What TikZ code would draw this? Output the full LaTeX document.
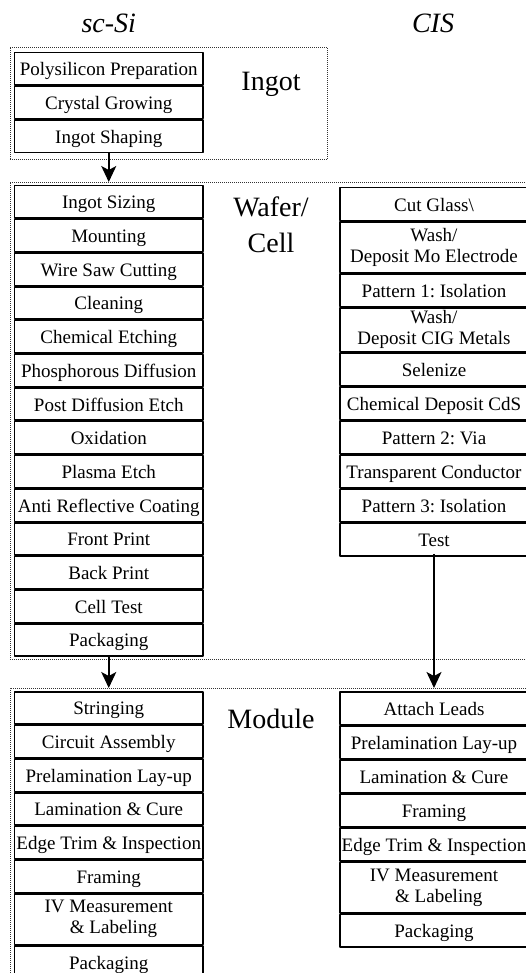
\documentclass[tikz,border=0pt]{standalone}
\usepackage{fontspec}
\setmainfont{Liberation Serif}
\frenchspacing
\usetikzlibrary{positioning,arrows.meta}
\tikzset{
  stepbox/.style={draw, line width=1.5pt, minimum width=188.5pt, minimum height=32.2pt, inner sep=1pt,
    align=center, text height=14pt, text depth=0pt, font=\fontsize{19}{21}\selectfont},
  cisbox/.style={stepbox, minimum height=32.6pt},
  twoline/.style={stepbox, minimum height=50.5pt, text height=, text depth=},
  stage/.style={draw=black!80, line width=.8pt, dash pattern=on .8pt off 1.2pt, inner sep=0pt, anchor=north west},
  biglabel/.style={font=\fontsize{28}{34}\selectfont, anchor=base},
  head/.style={font=\fontsize{28}{34}\selectfont\itshape, anchor=base},
  flow/.style={->, line width=1.5pt},
}
\begin{document}
\begin{tikzpicture}[x=1pt, y=-1pt, node distance=0pt, line join=round, >={Stealth[length=16pt,width=15pt,inset=4pt]}]
	\useasboundingbox (0,0) rectangle (526,973);
	% stage frames
	\node[stage, minimum width=317.5pt, minimum height=112pt] (ingotF) at (9.5,47) {};
	\node[stage, minimum width=540pt, minimum height=477pt] (waferF) at (9.5,182) {};
	\node[stage, minimum width=540pt, minimum height=320pt] (moduleF) at (9.5,688) {};
	\node[head] (siHead) at (108.75,33) {sc-Si};
	\node[head] (cisHead) at (433,33) {CIS};
	\node[biglabel] (ingotL) at (271,91) {Ingot};
	\node[biglabel] (waferL) at (271,217) {Wafer/};
	\node[biglabel] (cellL) at (271,253) {Cell};
	\node[biglabel] (moduleL) at (271,728) {Module};
	% sc-Si: ingot
	\node[stepbox, anchor=north] (poly) at (108.75,52) {Polysilicon Preparation};
	\node[stepbox, below=of poly] (crystal) {Crystal Growing};
	\node[stepbox, below=of crystal] (shaping) {Ingot Shaping};
	% sc-Si: wafer / cell
	\node[stepbox, anchor=north] (sizing) at (108.75,185) {Ingot Sizing};
	\node[stepbox, below=of sizing] (mount) {Mounting};
	\node[stepbox, below=of mount] (saw) {Wire Saw Cutting};
	\node[stepbox, below=of saw] (clean) {Cleaning};
	\node[stepbox, below=of clean] (etch) {Chemical Etching};
	\node[stepbox, below=of etch] (phos) {Phosphorous Diffusion};
	\node[stepbox, below=of phos] (postEtch) {Post Diffusion Etch};
	\node[stepbox, below=of postEtch] (oxid) {Oxidation};
	\node[stepbox, below=of oxid] (plasma) {Plasma Etch};
	\node[stepbox, below=of plasma] (arc) {Anti Reflective Coating};
	\node[stepbox, below=of arc] (front) {Front Print};
	\node[stepbox, below=of front] (back) {Back Print};
	\node[stepbox, below=of back] (cellTest) {Cell Test};
	\node[stepbox, below=of cellTest] (cellPack) {Packaging};
	% sc-Si: module
	\node[stepbox, anchor=north] (string) at (108.75,691) {Stringing};
	\node[stepbox, below=of string] (circuit) {Circuit Assembly};
	\node[stepbox, below=of circuit] (preLam) {Prelamination Lay-up};
	\node[stepbox, below=of preLam] (lam) {Lamination \& Cure};
	\node[stepbox, below=of lam] (trim) {Edge Trim \& Inspection};
	\node[stepbox, below=of trim] (frame) {Framing};
	\node[twoline, below=of frame] (ivm) {IV Measurement\\\ \ \& Labeling};
	\node[stepbox, below=of ivm] (modPack) {Packaging};
	% CIS: cell
	\node[cisbox, anchor=north] (glass) at (434,187) {Cut Glass\textbackslash};
	\node[twoline, below=of glass] (moElec) {Wash/\\Deposit Mo Electrode};
	\node[cisbox, below=of moElec] (pat1) {Pattern 1: Isolation};
	\node[twoline, minimum height=43.5pt, below=of pat1] (cig) {Wash/\\Deposit CIG Metals};
	\node[cisbox, below=of cig] (selen) {Selenize};
	\node[cisbox, below=of selen] (cds) {Chemical Deposit CdS};
	\node[cisbox, below=of cds] (pat2) {Pattern 2: Via};
	\node[cisbox, below=of pat2] (tco) {Transparent Conductor};
	\node[cisbox, below=of tco] (pat3) {Pattern 3: Isolation};
	\node[cisbox, below=of pat3] (cisTest) {Test};
	% CIS: module
	\node[cisbox, anchor=north] (leads) at (434,691) {Attach Leads};
	\node[cisbox, below=of leads] (cPreLam) {Prelamination Lay-up};
	\node[cisbox, below=of cPreLam] (cLam) {Lamination \& Cure};
	\node[cisbox, below=of cLam] (cFrame) {Framing};
	\node[cisbox, below=of cFrame] (cTrim) {Edge Trim \& Inspection};
	\node[twoline, below=of cTrim] (cIvm) {IV Measurement\\\ \ \& Labeling};
	\node[cisbox, below=of cIvm] (cPack) {Packaging};
	% flow between stages
	\draw[flow] (shaping.south) -- (shaping.south |- waferF.north);
	\draw[flow] (cellPack.south) -- (cellPack.south |- moduleF.north);
	\draw[flow] ([yshift=3pt]cisTest.south) -- (cisTest.south |- moduleF.north);
\end{tikzpicture}
\end{document}
